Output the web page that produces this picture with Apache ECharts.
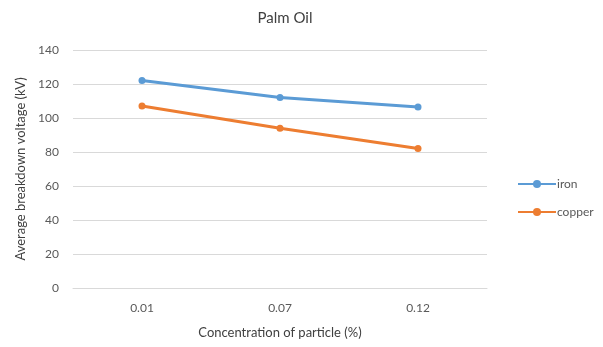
<!DOCTYPE html>
<html><head><meta charset="utf-8">
<script src="https://cdn.jsdelivr.net/npm/echarts@6/dist/echarts.min.js"></script>
<style>html,body{margin:0;padding:0;background:#fff}#c{width:603px;height:347px}</style>
</head><body><div id="c"></div>
<script>
const categories = ['0.01', '0.07', '0.12'];
const iron = [122, 112, 106.5];
const copper = [107, 94, 82];
const yTicks = { min: 0, max: 140, interval: 20 };

const font = 'Lato, "Open Sans", sans-serif';
const chart = echarts.init(document.getElementById('c'), null, { renderer: 'canvas' });
chart.setOption({
  animation: false,
  title: { text: 'Palm Oil', left: 280, top: 6, textAlign: 'center',
    textStyle: { fontFamily: font, fontSize: 15, fontWeight: 'normal', color: '#404040' } },
  grid: { left: 73, right: 116, top: 50, bottom: 59 },
  legend: {
    orient: 'vertical', left: 512, top: 173, itemGap: 16, itemWidth: 38, itemHeight: 10,
    textStyle: { fontFamily: font, fontSize: 12, color: '#595959', padding: [0, 0, 0, -4] },
    data: ['iron', 'copper']
  },
  xAxis: {
    type: 'category', data: categories,
    name: 'Concentration of particle (%)', nameLocation: 'middle', nameGap: 38,
    nameTextStyle: { fontFamily: font, fontSize: 13, color: '#404040' },
    axisLine: { show: true, lineStyle: { color: '#d9d9d9' } },
    axisTick: { show: false },
    axisLabel: { fontFamily: font, fontSize: 12, color: '#595959', margin: 14 }
  },
  yAxis: {
    type: 'value', min: yTicks.min, max: yTicks.max, interval: yTicks.interval,
    name: 'Average breakdown voltage (kV)', nameLocation: 'middle', nameGap: 45,
    nameTextStyle: { fontFamily: font, fontSize: 13, color: '#404040' },
    axisLine: { show: false }, axisTick: { show: false },
    axisLabel: { fontFamily: font, fontSize: 12, color: '#595959', margin: 14 },
    splitLine: { lineStyle: { color: '#d9d9d9', width: 1 } }
  },
  series: [
    { name: 'iron', type: 'line', data: iron, symbol: 'circle', symbolSize: 7,
      itemStyle: { color: '#5b9bd5' }, lineStyle: { width: 3, color: '#5b9bd5' } },
    { name: 'copper', type: 'line', data: copper, symbol: 'circle', symbolSize: 7,
      itemStyle: { color: '#ed7d31' }, lineStyle: { width: 3, color: '#ed7d31' } }
  ]
});
</script></body></html>
